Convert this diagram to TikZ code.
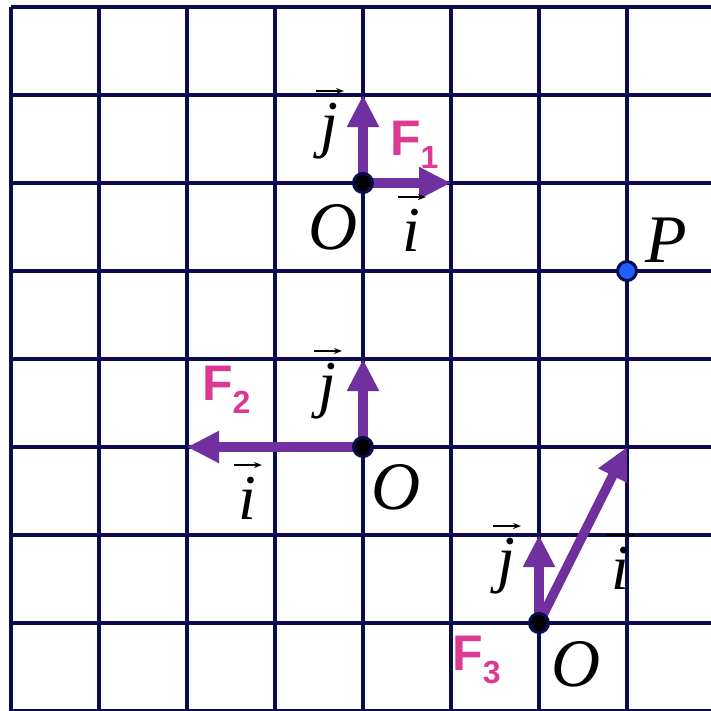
\documentclass[tikz,border=0pt]{standalone}
\usepackage{fontspec}
\setmainfont{Liberation Serif}
\newfontfamily\fsans{Liberation Sans}
\usetikzlibrary{arrows.meta}
\definecolor{gridc}{HTML}{0B0B4F}
\definecolor{vecc}{HTML}{7030A0}
\definecolor{flab}{HTML}{DC3A92}
\definecolor{pblue}{HTML}{1F5FFF}
\newcommand\fsub[1]{\raisebox{-13pt}{\fontsize{32}{32}\selectfont #1}}
\begin{document}
\begin{tikzpicture}[x=1pt,y=-1pt,
  gridline/.style={gridc,line width=4pt},
  vec/.style={vecc,line width=9.5pt,-{Triangle[length=32pt,width=30pt]}},
  origin/.style={circle,fill=black,draw=gridc,line width=3pt,minimum size=19pt,inner sep=0pt},
  pdot/.style={circle,fill=pblue,draw=gridc,line width=3pt,minimum size=19pt,inner sep=0pt},
  letter/.style={font=\fontsize{64}{64}\selectfont\itshape,inner sep=0pt,anchor=base},
  olab/.style={font=\fontsize{68}{68}\selectfont\itshape,inner sep=0pt,anchor=base},
  acc/.style={black,line width=1.8pt,-{Stealth[length=8pt,width=6pt]}},
  flabel/.style={font=\fontsize{50}{50}\selectfont\fsans\bfseries,text=flab,inner sep=0pt,anchor=base west}
]
\useasboundingbox (0,0) rectangle (711,710);
\clip (0,0) rectangle (711,710);
% grid
\foreach \x in {11,99,187,275,363,451,539,627}
  \draw[gridline] (\x,7) -- (\x,730);
\foreach \y in {7,95,183,271,359,447,535,623,711}
  \draw[gridline] (11,\y) -- (730,\y);

% origins and tips
\coordinate (O1) at (363,183);
\coordinate (J1) at (363,95);
\coordinate (I1) at (451,183);
\coordinate (O2) at (363,447);
\coordinate (J2) at (363,359);
\coordinate (I2) at (187,447);
\coordinate (O3) at (539,623);
\coordinate (J3) at (539,535);
\coordinate (I3) at (627,447);

\draw[vec] (O1) -- (J1);
\draw[vec] (O1) -- (I1);
\draw[vec] (O2) -- (J2);
\draw[vec] (O2) -- (I2);
\draw[vec] (O3) -- (J3);
\draw[vec] (O3) -- (I3);

\node[origin] (d1) at (O1) {};
\node[origin] (d2) at (O2) {};
\node[origin] (d3) at (O3) {};
\node[pdot] (P) at (627,271) {};

% letters
\node[letter] (j1) at (329,145) {j};
\node[letter] (i1) at (411,251) {i};
\node[olab] (o1) at (333,249) {O};
\node[letter] (j2) at (327,405) {j};
\node[letter] (i2) at (247,519) {i};
\node[olab] (o2) at (396,509) {O};
\node[letter] (j3) at (506,580) {j};
\node[letter] (i3) at (620,589) {i};
\node[olab] (o3) at (576,686) {O};
\node[olab] (pl) at (666,262) {P};

% accent arrows
\foreach \n in {j1,i1,j2,i2,j3,i3}
  \draw[acc] ([shift={(-13,-54)}]\n.base) -- ([shift={(15,-54)}]\n.base);

% F labels
\node[flabel] (f1) at (390,155) {F\fsub{1}};
\node[flabel] (f2) at (202,400) {F\fsub{2}};
\node[flabel] (f3) at (452,670) {F\fsub{3}};
\end{tikzpicture}
\end{document}
